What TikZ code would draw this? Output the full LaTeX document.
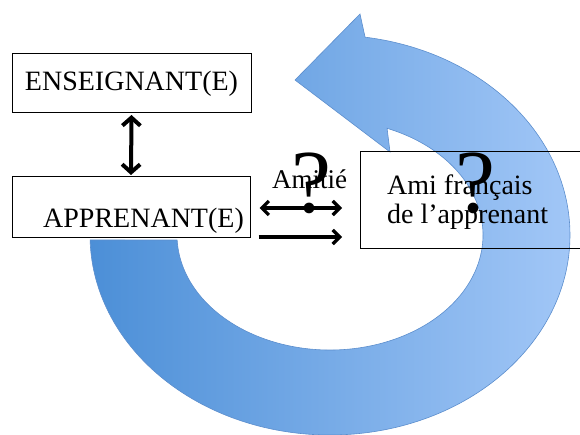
\documentclass[tikz,border=0pt]{standalone}
\usepackage{fontspec}
\setmainfont{Liberation Serif}
\usetikzlibrary{arrows.meta,calc}
\definecolor{arrL}{RGB}{76,143,215}
\definecolor{arrR}{RGB}{162,199,247}
\definecolor{arrEdge}{RGB}{92,142,205}
\tikzset{
  boxnode/.style={draw=black, line width=1pt, inner sep=0pt},
  lbl/.style={font=\fontsize{28}{28}\selectfont, inner sep=0pt},
  qmark/.style={font=\fontsize{90}{90}\selectfont, inner sep=0pt, anchor=base},
  vconn/.style={line width=4pt, {Straight Barb[length=8pt,width=18pt]}-{Straight Barb[length=8pt,width=18pt]}, shorten <=1.5pt, shorten >=1.5pt},
  hconn/.style={line width=3.3pt, {Straight Barb[length=7pt,width=14pt]}-{Straight Barb[length=7pt,width=14pt]}},
  hconnone/.style={line width=3.3pt, -{Straight Barb[length=7pt,width=14pt]}},
}
\begin{document}
\begin{tikzpicture}[x=1pt,y=1pt]
\useasboundingbox (0,0) rectangle (580,434);
\clip (0,0) rectangle (580,434);
\coordinate (C) at (330,199);
% big circular arrow
\shade[left color=arrL, right color=arrR, draw=arrEdge, line width=0.6pt]
  ($(C)+(181.43:240 and 200)$) arc[start angle=181.43, end angle=441.6, x radius=240, y radius=200]
  -- (360,420) -- (295,354) -- (390,282) -- ($(C)+(68.1:153 and 115)$)
  arc[start angle=428.1, end angle=182.5, x radius=153, y radius=115] -- cycle;
% boxes
\node[boxnode, lbl, minimum width=239, minimum height=59] (ens) at (131.5,350.5) {ENSEIGNANT(E)};
\node[boxnode, minimum width=238, minimum height=60] (app) at (131,227) {};
\node[lbl, anchor=base west] (appt) at (43,207) {APPRENANT(E)};
\node[boxnode, minimum width=240, minimum height=96, anchor=west] (ami) at (360,234) {};
\node[lbl, anchor=base west] (ami1) at (387,239) {Ami français};
\node[lbl, anchor=base west] (ami2) at (387,211) {de l’apprenant};
% connectors
\draw[vconn] (ens.south) -- (app.north);
\draw[hconn] ([xshift=9pt,yshift=-1pt]app.east) -- ([xshift=-18pt,yshift=-8pt]ami.west);
\draw[hconnone] ([xshift=8pt,yshift=-30pt]app.east) -- ([xshift=-18pt,yshift=-37pt]ami.west);
% labels
\node[font=\fontsize{27}{27}\selectfont, inner sep=0pt, anchor=base] (amitie) at (309.5,245) {Amitié};
\node[qmark] (q1) at (311,221) {?};
\node[qmark] (q2) at (475,221) {?};
\end{tikzpicture}
\end{document}
